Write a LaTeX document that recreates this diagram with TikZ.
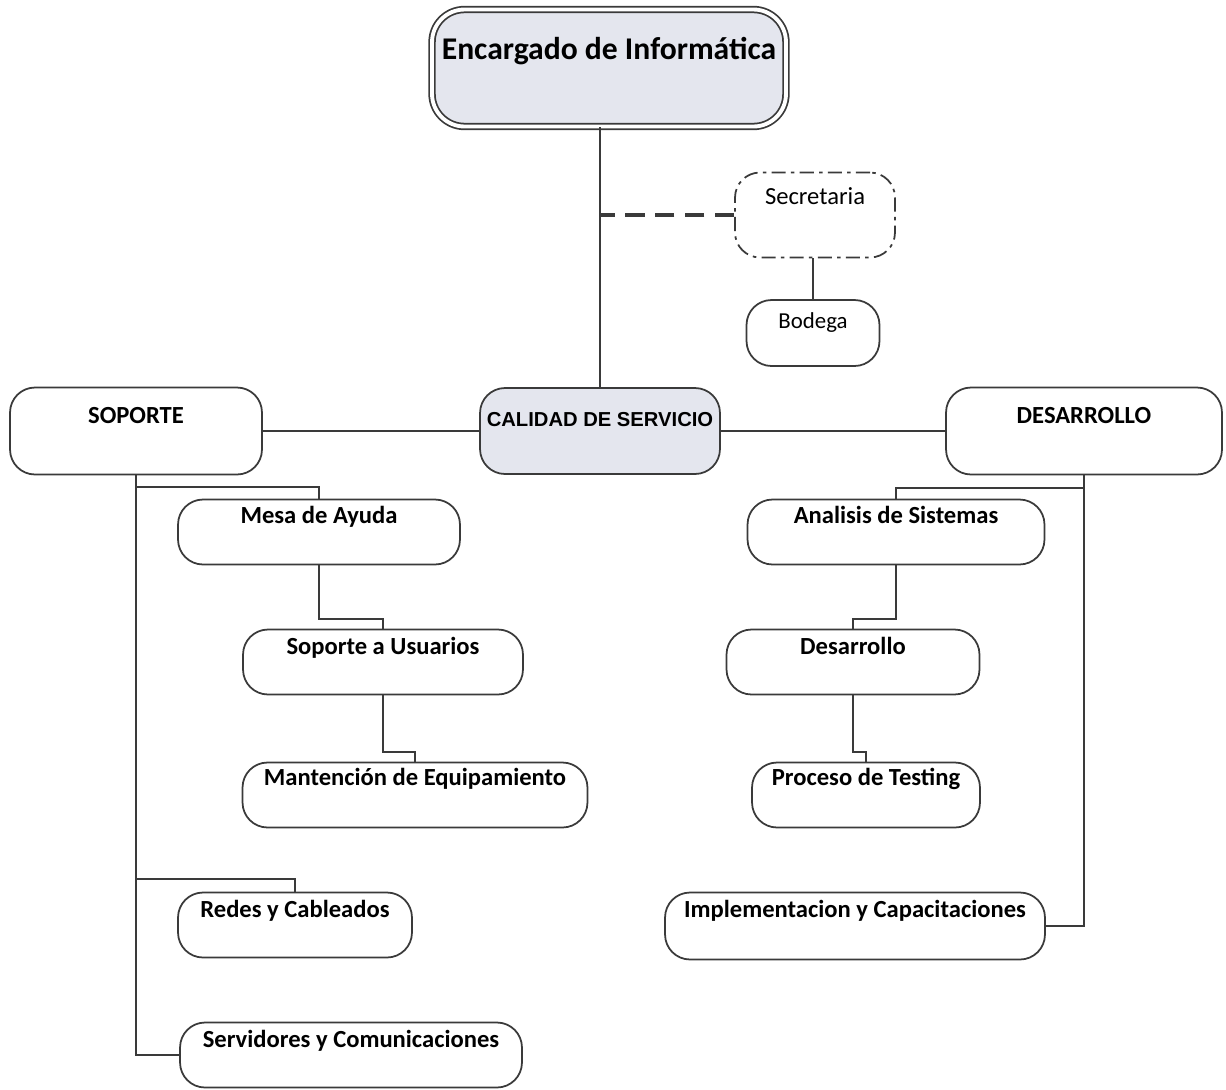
\documentclass[tikz,border=0pt]{standalone}
\usepackage{fontspec}
\setmainfont{Carlito}
\newfontfamily\arialfont{Liberation Sans}
\usepackage{tikz}

\definecolor{jefefill}{HTML}{E4E6EE}
\definecolor{linea}{HTML}{3A3A3A}

\begin{document}
\begin{tikzpicture}[x=0.02cm, y=-0.02cm,
  box/.style n args={3}{draw=linea, line width=1pt, rounded corners=0.5cm, inner ysep=0pt, inner xsep=2pt,
    minimum width=#1, text height=#2, text depth=#3, font=\fontsize{14}{16}\selectfont\bfseries},
  link/.style={draw=linea, line width=1.1pt},
]
\useasboundingbox (0,0) rectangle (1226,1089);

% Jefatura y apoyo
\node[box={7.08cm}{1.0cm}{1.34cm}, fill=jefefill, double=white, double distance=2.2pt, line width=1pt,
  rounded corners=0.65cm, font=\fontsize{18}{20}\selectfont\bfseries] (jefe) at (609, 68) {Encargado de Informática};
\node[box={3.2cm}{0.64cm}{1.06cm}, dash pattern=on 8pt off 3pt on 2pt off 3pt, font=\fontsize{14}{16}\selectfont] (secre) at (815, 215) {Secretaria};
\node[box={2.66cm}{0.56cm}{0.76cm}, font=\fontsize{13}{15}\selectfont] (bodega) at (813, 333) {Bodega};

% Areas
\node[box={4.8cm}{0.76cm}{0.96cm}, fill=jefefill, font=\arialfont\fontsize{11.5}{13}\selectfont\bfseries] (calidad) at (600, 431) {CALIDAD DE SERVICIO};
\node[box={5.04cm}{0.72cm}{1.02cm}] (soporte) at (136, 431) {SOPORTE};
\node[box={5.52cm}{0.72cm}{1.02cm}] (desarrollo) at (1084, 431) {DESARROLLO};

% Soporte
\node[box={5.64cm}{0.48cm}{0.82cm}] (mesa) at (319, 532) {Mesa de Ayuda};
\node[box={5.6cm}{0.5cm}{0.8cm}] (usuarios) at (383, 662) {Soporte a Usuarios};
\node[box={6.9cm}{0.46cm}{0.84cm}] (mantencion) at (415, 795) {Mantención de Equipamiento};
\node[box={4.68cm}{0.5cm}{0.8cm}] (redes) at (295, 925) {Redes y Cableados};
\node[box={6.84cm}{0.5cm}{0.8cm}] (servidores) at (351, 1055) {Servidores y Comunicaciones};

% Desarrollo
\node[box={5.94cm}{0.48cm}{0.82cm}] (analisis) at (896, 532) {Analisis de Sistemas};
\node[box={5.06cm}{0.5cm}{0.8cm}] (desa) at (853, 662) {Desarrollo};
\node[box={4.56cm}{0.46cm}{0.84cm}] (testing) at (866, 795) {Proceso de Testing};
\node[box={7.6cm}{0.5cm}{0.84cm}] (implementa) at (855, 926) {Implementacion y Capacitaciones};

% Conexiones
\draw[link] (jefe.south -| calidad.north) -- (calidad.north);
\draw[link, line width=1.8pt, dash pattern=on 11pt off 6pt] (secre.west) -- (secre.west -| calidad.north);
\draw[link] (secre.south -| bodega.north) -- (bodega.north);
\draw[link] (soporte) -- (calidad);
\draw[link] (calidad) -- (desarrollo);

\draw[link] (soporte.south) |- (servidores.west);
\draw[link] (soporte.south) ++(0,12) -| (mesa.north);
\draw[link] (soporte.south |- redes.north) ++(0,-13) -| (redes.north);
\draw[link] (mesa.south) -- ++(0,54) -| (usuarios.north);
\draw[link] (usuarios.south) -- ++(0,57) -| (mantencion.north);

\draw[link] (desarrollo.south) |- (implementa.east);
\draw[link] (desarrollo.south) ++(0,13) -| (analisis.north);
\draw[link] (analisis.south) -- ++(0,54) -| (desa.north);
\draw[link] (desa.south) -- ++(0,57) -| (testing.north);

\end{tikzpicture}
\end{document}
